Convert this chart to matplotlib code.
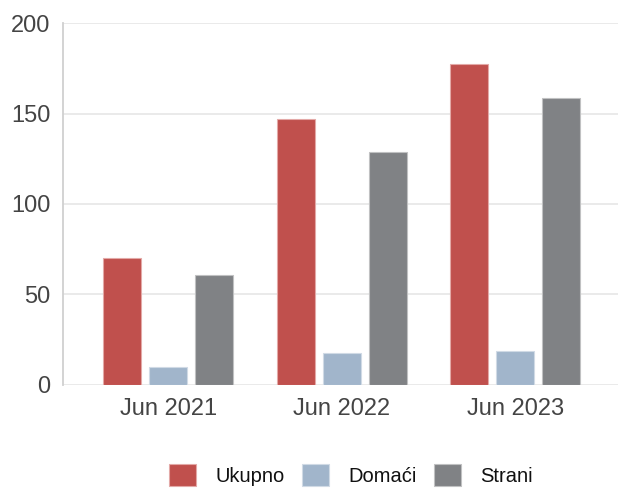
import matplotlib
matplotlib.use("Agg")
import matplotlib.pyplot as plt
import numpy as np

plt.rcParams['font.family'] = ['Liberation Sans', 'DejaVu Sans']

categories = ["Jun 2021", "Jun 2022", "Jun 2023"]
series_names = ["Ukupno", "Domaći", "Strani"]
ukupno = [70, 146.8, 177.3]
domaci = [9.5, 17.6, 18.5]
strani = [60.4, 128.7, 158.6]
colors = ["#C0504D", "#A1B5CB", "#808285"]
edges = ["#E3A9A7", "#D0DAE5", "#C0C1C2"]
yticks = [0, 50, 100, 150, 200]

fig = plt.figure(figsize=(6.18, 4.88), dpi=100)
ax = fig.add_axes([63/618, 1-384.5/488, 555/618, (384.5-23.3)/488])

x = np.arange(len(categories))
width = 0.219
step = 0.265
for i, (vals, name) in enumerate(zip([ukupno, domaci, strani], series_names)):
    ax.bar(x + (i-1)*step, vals, width, color=colors[i], edgecolor=edges[i],
           linewidth=0.8, label=name, zorder=3)

ax.set_ylim(0, 200)
ax.set_xlim(-0.607, 2.592)
ax.set_yticks(yticks)
ax.set_xticks(x)
ax.set_xticklabels(categories)
ax.yaxis.grid(True, color="#E8E8E8", linewidth=1.3, zorder=0)
ax.set_axisbelow(True)
for s in ["top", "right", "bottom"]:
    ax.spines[s].set_visible(False)
ax.spines["left"].set_color("#D0D0D0")
ax.spines["left"].set_linewidth(1.3)
ax.tick_params(axis="both", length=0, labelsize=17, colors="#444444")
ax.tick_params(axis="y", pad=9)
ax.tick_params(axis="x", pad=10)

handles, labels = ax.get_legend_handles_labels()
leg = fig.legend(handles, labels, loc="center", bbox_to_anchor=(351/618, 1-475/488),
                 ncol=3, frameon=False, fontsize=14.5, handlelength=1.35,
                 handleheight=1.3, handletextpad=0.95, columnspacing=0.85,
                 borderaxespad=0, borderpad=0)
for t in leg.get_texts():
    t.set_color("#111111")

fig.savefig("out.png", dpi=100)
